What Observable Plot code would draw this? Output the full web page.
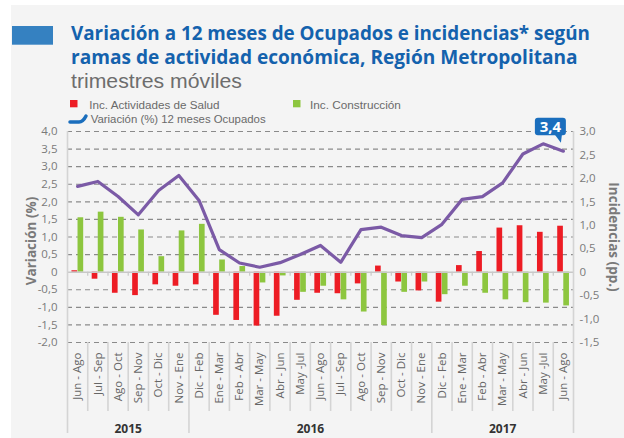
<!DOCTYPE html>
<html>
<head>
<meta charset="utf-8">
<script src="https://cdn.jsdelivr.net/npm/d3@7"></script>
<script src="https://cdn.jsdelivr.net/npm/@observablehq/plot@0.6"></script>
<style>
  html, body { margin: 0; padding: 0; background: #fff; width: 624px; height: 438px; overflow: hidden; font-family: "Open Sans", sans-serif; }
  #panel { position: absolute; left: 11px; top: 5px; width: 613px; height: 433px; background: #f4f4f4; }
  #chart { position: absolute; left: 0; top: 112px; }
  #head { position: absolute; left: 0; top: 0; }
</style>
</head>
<body>
<div id="panel"></div>
<div id="chart"></div>
<svg id="head" width="624" height="130"></svg>
<script>
// ---------- data ----------
const titleLines = ["Variación a 12 meses de Ocupados e incidencias* según", "ramas de actividad económica, Región Metropolitana"];
const subtitle = "trimestres móviles";
const seriesNames = ["Inc. Actividades de Salud", "Inc. Construcción", "Variación (%) 12 meses Ocupados"];
const leftTitle = "Variación (%)";
const rightTitle = "Incidencias (pp.)";

const periods = ["Jun - Ago","Jul - Sep","Ago - Oct","Sep - Nov","Oct - Dic","Nov - Ene",
  "Dic - Feb","Ene - Mar","Feb - Abr","Mar - May","Abr - Jun","May -Jul","Jun - Ago","Jul - Sep","Ago - Oct","Sep - Nov","Oct - Dic","Nov - Ene",
  "Dic - Feb","Ene - Mar","Feb - Abr","Mar - May","Abr - Jun","May -Jul","Jun - Ago"];
const years = ["2015", "2016", "2017"];
const yearCounts = [6, 12, 7];

// Variación (%) 12 meses Ocupados — left axis
const ocupados = [2.44, 2.58, 2.15, 1.63, 2.32, 2.75, 2.04, 0.64, 0.26, 0.14, 0.27, 0.50, 0.76, 0.28, 1.21, 1.28, 1.04, 0.98, 1.36, 2.07, 2.15, 2.54, 3.36, 3.65, 3.44];
// Incidencias (pp.) — right axis
const salud = [0.03, -0.15, -0.45, -0.50, -0.27, -0.30, -0.27, -0.92, -1.03, -1.15, -0.94, -0.60, -0.45, -0.46, -0.25, 0.13, -0.21, -0.40, -0.64, 0.14, 0.44, 0.94, 0.99, 0.85, 0.98];
const construccion = [1.16, 1.28, 1.17, 0.90, 0.33, 0.88, 1.02, 0.26, 0.12, -0.23, -0.08, -0.43, -0.30, -0.59, -0.85, -1.14, -0.43, -0.21, -0.48, -0.30, -0.45, -0.59, -0.65, -0.66, -0.72];

const leftTicks = [-2, -1.5, -1, -0.5, 0, 0.5, 1, 1.5, 2, 2.5, 3, 3.5, 4];
const rightTicks = [-1.5, -1, -0.5, 0, 0.5, 1, 1.5, 2, 2.5, 3];

const colors = { salud: "#ed1c24", construccion: "#8dc63f", ocupados: "#7b5aa6", legendLine: "#1a6ebd", title: "#1462ad" };

// ---------- helpers ----------
const K = 4 / 3; // right-axis units -> left-axis units (zeros aligned)
const fmt = v => Math.abs(v) < 1e-9 ? "0" : v.toFixed(1).replace(".", ",");

const rows = periods.map((p, i) => ({ i, p, ocu: ocupados[i], sal: salud[i], con: construccion[i] }));
const yearStarts = yearCounts.reduce((a, c, k) => (a.push(k === 0 ? 0 : a[k - 1] + yearCounts[k - 1]), a), []);
const yearBounds = [...yearStarts, periods.length];
const catBounds = d3.range(1, periods.length).filter(b => !yearBounds.includes(b));
const innerYearBounds = yearBounds.slice(1, -1);
const outerBounds = [0, periods.length];

const tipMark = (index, scales) => {
  const n = ocupados.length - 1;
  const px = scales.x(n + 0.5), py = scales.y(ocupados[n]);
  const g = d3.create("svg:g");
  g.append("rect").attr("x", px - 28).attr("y", py - 33).attr("width", 31).attr("height", 17.5).attr("rx", 3).attr("fill", colors.legendLine);
  g.append("polygon").attr("points", `${px - 8},${py - 16} ${px - 1},${py - 16} ${px - 2},${py - 8}`).attr("fill", colors.legendLine);
  g.append("text").attr("x", px - 12.5).attr("y", py - 24.2).attr("text-anchor", "middle").attr("dy", "0.36em")
    .attr("fill", "#fff").attr("font-weight", "bold").attr("font-size", 15).attr("font-family", "Open Sans, sans-serif")
    .text(fmt(ocupados[n]));
  return g.node();
};

const chart = Plot.plot({
  width: 624, height: 326,
  marginLeft: 67, marginRight: 51, marginTop: 19, marginBottom: 96,
  x: { domain: [0, periods.length], axis: null },
  y: { domain: [-2, 4], axis: null },
  style: { background: "transparent", fontFamily: "Open Sans, sans-serif", overflow: "visible" },
  marks: [
    Plot.ruleY(leftTicks.filter(d => d !== 0), { stroke: "#8a8a8a", strokeWidth: 1.1, strokeDasharray: "5,4" }),
    Plot.rect(rows, { x1: d => d.i + 0.22, x2: d => d.i + 0.5, y1: 0, y2: d => d.sal * K, fill: colors.salud }),
    Plot.rect(rows, { x1: d => d.i + 0.52, x2: d => d.i + 0.8, y1: 0, y2: d => d.con * K, fill: colors.construccion }),
    Plot.ruleY([0], { stroke: "#c8c8c8", strokeWidth: 1.5 }),
    Plot.ruleX(catBounds, { x: d => d, y1: 0, y2: 0, insetBottom: -4, stroke: "#c8c8c8", strokeWidth: 1.2 }),
    Plot.ruleX(catBounds, { x: d => d, y1: -2, y2: -2, insetBottom: -69, stroke: "#d4d4d4", strokeWidth: 1.6 }),
    Plot.ruleX(innerYearBounds, { x: d => d, y1: -2, y2: -2, insetBottom: -91, stroke: "#d4d4d4", strokeWidth: 1.6 }),
    Plot.ruleX(outerBounds, { x: d => d, y1: 4, y2: -2, insetBottom: -91, stroke: "#d4d4d4", strokeWidth: 1.6 }),
    Plot.lineY(rows, { x: d => d.i + 0.5, y: "ocu", stroke: colors.ocupados, strokeWidth: 3.2 }),
    Plot.axisY(leftTicks, { anchor: "left", tickSize: 0, tickPadding: 10, tickFormat: fmt, fontSize: 11.5, color: "#7a7a7a", label: null }),
    Plot.axisY(rightTicks.map(r => r * K), { anchor: "right", tickSize: 0, tickPadding: 6, tickFormat: d => fmt(Math.round(d / K * 10) / 10), fontSize: 11.5, color: "#7a7a7a", label: null }),
    Plot.text(rows, { x: d => d.i + 0.5, text: "p", frameAnchor: "bottom", dy: 10, rotate: -90, textAnchor: "end", lineAnchor: "middle", fontSize: 11.5, fill: "#666" }),
    Plot.text(years, { x: (d, k) => yearStarts[k] + yearCounts[k] / 2, text: d => d, frameAnchor: "bottom", dy: 87, textAnchor: "middle", lineAnchor: "middle", fontWeight: "bold", fontSize: 12, fill: "#333" }),
    Plot.text([leftTitle], { text: d => d, frameAnchor: "left", dx: -36, dy: 4, rotate: -90, textAnchor: "middle", lineAnchor: "middle", fontWeight: "bold", fontSize: 13.5, fill: "#7a7a7a" }),
    Plot.text([rightTitle], { text: d => d, frameAnchor: "right", dx: 39.5, rotate: 90, textAnchor: "middle", lineAnchor: "middle", fontWeight: "bold", fontSize: 13.5, fill: "#7a7a7a" }),
    tipMark
  ]
});
document.getElementById("chart").appendChild(chart);

// ---------- header: title, subtitle, legend ----------
const ctx = document.createElement("canvas").getContext("2d");
function measure(text, weight, size, fam) { ctx.font = `${weight} ${size}px ${fam}`; return ctx.measureText(text).width; }
function pickFont(text, target, size, weight, prefs) {
  const fb = measure(text, weight, size, "monospace");
  let best = null;
  for (const f of prefs) {
    const w = measure(text, weight, size, `"${f}", monospace`);
    if (Math.abs(w - fb) < 0.01) continue; // not installed
    const r = target / w;
    if (r >= 0.95 && r <= 1.12) return { f, r };
    if (!best || Math.abs(Math.log(r)) < Math.abs(Math.log(best.r))) best = { f, r };
  }
  return best || { f: "sans-serif", r: 1 };
}
function fitText(sel, text, x, y, target, size, weight, fill, prefs) {
  const { f, r } = pickFont(text, target, size, weight, prefs);
  const t = sel.append("text").attr("x", x).attr("y", y)
    .attr("font-family", `"${f}", sans-serif`).attr("font-weight", weight)
    .attr("font-size", size * Math.min(1, r)).attr("fill", fill).text(text);
  if (r > 1) t.attr("textLength", target).attr("lengthAdjust", "spacingAndGlyphs");
  return t;
}

const head = d3.select("#head");
const titlePrefs = ["Open Sans Condensed", "Liberation Sans Narrow", "Open Sans"];
const textPrefs = ["Open Sans", "Liberation Sans Narrow", "Liberation Sans"];
head.append("rect").attr("x", 12).attr("y", 26).attr("width", 41).attr("height", 18.7).attr("fill", "#3581c1");
fitText(head, titleLines[0], 71, 40.3, 519, 21, 700, colors.title, titlePrefs);
fitText(head, titleLines[1], 71, 63.9, 507, 21, 700, colors.title, titlePrefs);
fitText(head, subtitle, 71, 87.7, 171, 21, 400, "#6d6d6d", textPrefs);

// legend
head.append("rect").attr("x", 70).attr("y", 100).attr("width", 7.5).attr("height", 7.3).attr("fill", colors.salud);
fitText(head, seriesNames[0], 89.3, 109, 131, 13, 400, "#6a6a6a", textPrefs);
head.append("rect").attr("x", 293).attr("y", 100).attr("width", 7.5).attr("height", 7.3).attr("fill", colors.construccion);
fitText(head, seriesNames[1], 310, 109, 91, 13, 400, "#6a6a6a", textPrefs);
head.append("path").attr("d", "M70,122 L79,122 Q83,122 86,116").attr("fill", "none").attr("stroke", colors.legendLine)
  .attr("stroke-width", 3.5).attr("stroke-linecap", "round");
fitText(head, seriesNames[2], 90.7, 123.3, 175, 13, 400, "#6a6a6a", textPrefs);
</script>
</body>
</html>
